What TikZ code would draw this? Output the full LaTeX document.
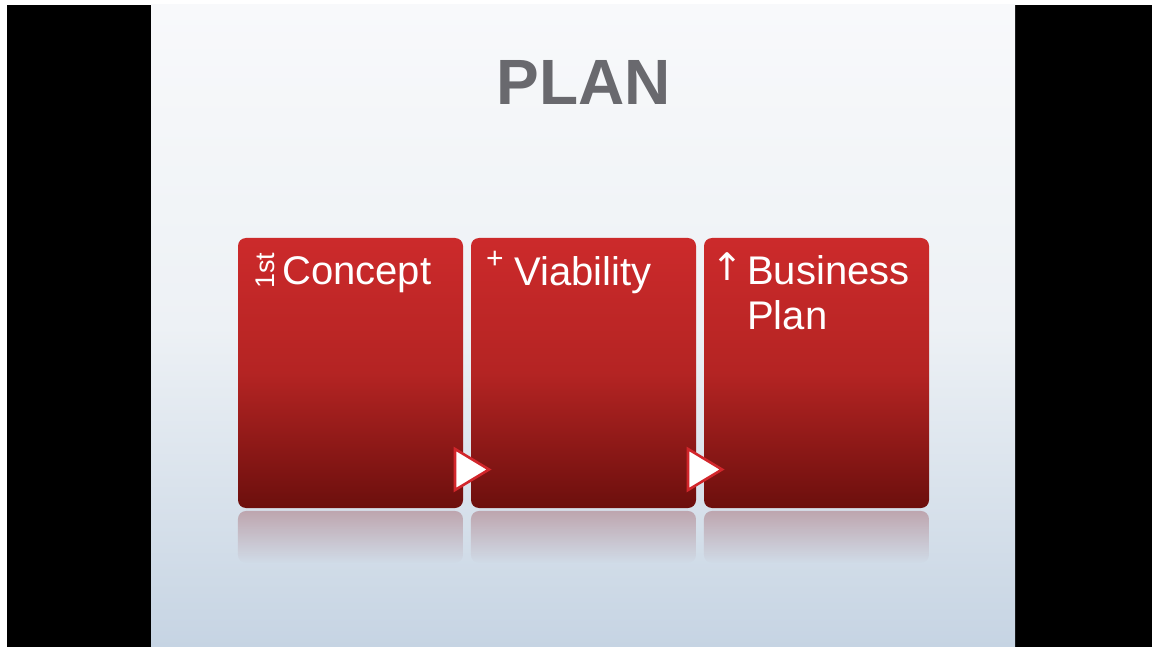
\documentclass[tikz,border=0pt]{standalone}
\usepackage{fontspec}
\setmainfont{Liberation Sans}
\newfontfamily\symbolfont{DejaVu Sans}
\usetikzlibrary{fadings}

\definecolor{slidetop}{HTML}{F8F9FB}
\definecolor{slidemid}{HTML}{EDF1F5}
\definecolor{slidebot}{HTML}{C6D4E3}
\definecolor{boxtop}{HTML}{CC2A2B}
\definecolor{boxmid}{HTML}{B42423}
\definecolor{boxbot}{HTML}{6C0F0D}
\definecolor{tricol}{HTML}{D2262B}
\definecolor{titlegray}{HTML}{69696E}
\definecolor{reflcol}{HTML}{8A2A30}

\tikzfading[name=reflfade, top color=transparent!68, bottom color=transparent!100]

\tikzset{
  stepbox/.style={rounded corners=8pt, top color=boxtop, bottom color=boxbot, middle color=boxmid, draw=none},
  reflbox/.style={rounded corners=8pt, fill=reflcol, path fading=reflfade},
  steptext/.style={inner sep=0pt, anchor=base west, text=white, font=\fontsize{40}{45}\selectfont},
  marktext/.style={inner sep=0pt, text=white},
  nexttri/.style={fill=white, draw=tricol, line width=2.6pt, line join=miter}
}

\begin{document}
\begin{tikzpicture}[x=1pt, y=1pt]
  \useasboundingbox (0,0) rectangle (1152,-647);
  % frame around the slide
  \fill[white] (0,0) rectangle (1152,-647);
  \fill[black] (7,-5) rectangle (1152,-647);

  % slide background
  \shade[top color=slidetop, bottom color=slidebot, middle color=slidemid]
    (151,-5) rectangle (1015,-647);

  % title
  \node[inner sep=0pt, anchor=base, text=titlegray,
        font=\fontsize{64}{64}\selectfont\bfseries] (title) at (583.5,-105) {PLAN};

  % reflections under the boxes
  \foreach \x in {238,471,704} {
    \fill[reflbox] (\x,-511) rectangle ++(225,-52);
  }

  % the three steps
  \shade[stepbox] (238,-238) rectangle (463,-508);
  \shade[stepbox] (471,-238) rectangle (696,-508);
  \shade[stepbox] (704,-238) rectangle (929,-508);

  % step labels
  \node[marktext, rotate=90, anchor=base west, font=\fontsize{27}{27}\selectfont] (firstmark) at (274,-289) {1st};
  \node[steptext] (concept) at (282,-285) {Concept};

  \node[marktext, anchor=base west, font=\fontsize{30}{30}\selectfont] (plusmark) at (486,-269) {+};
  \node[steptext] (viability) at (514,-286) {Viability};

  \node[marktext, anchor=base west, font=\symbolfont\fontsize{38}{38}\selectfont] (upmark) at (711,-280) {↑};
  \node[steptext] (business) at (747,-285) {Business};
  \node[steptext] (plan) at (747,-330) {Plan};

  % arrows between steps
  \filldraw[nexttri] (455,-449) -- (489,-469.5) -- (455,-490) -- cycle;
  \filldraw[nexttri] (688,-449) -- (722,-469.5) -- (688,-490) -- cycle;
\end{tikzpicture}
\end{document}
